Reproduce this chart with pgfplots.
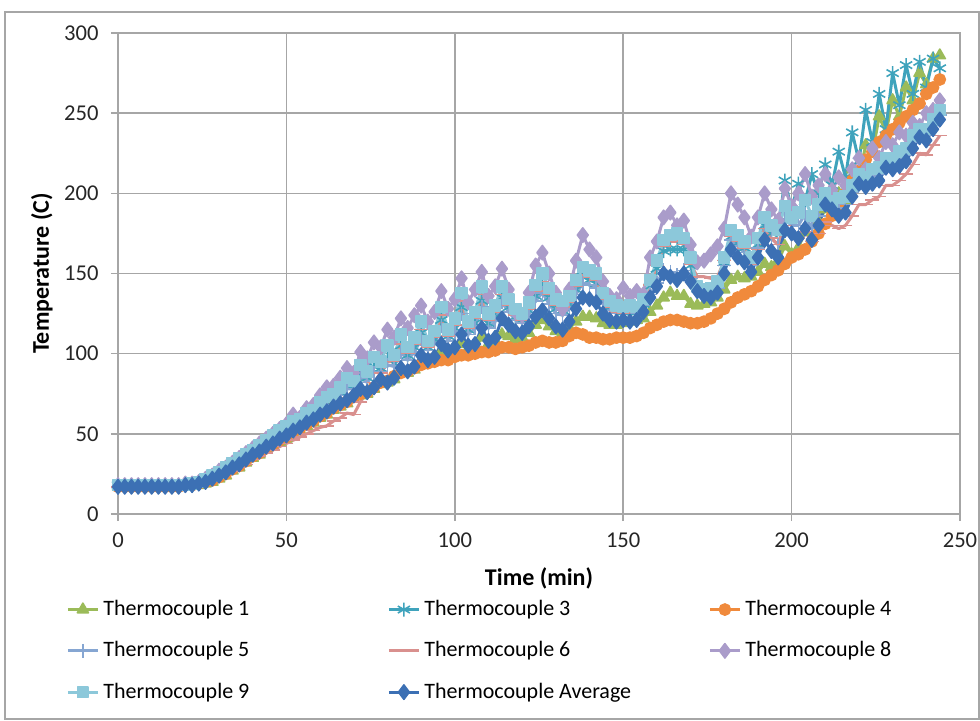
\documentclass[border=0pt]{standalone}
\usepackage{fontspec}
\setmainfont{Carlito}
\usepackage{pgfplots}
\pgfplotsset{compat=1.18}
\usepackage{pgfplotstable}
\definecolor{cA}{HTML}{9BBB59}
\definecolor{cB}{HTML}{3FA3BC}
\definecolor{cC}{HTML}{F08A3C}
\definecolor{cD}{HTML}{86A6D2}
\definecolor{cE}{HTML}{D9908E}
\definecolor{cF}{HTML}{AA9CCA}
\definecolor{cG}{HTML}{8CC8DA}
\definecolor{cH}{HTML}{3C70B4}
\definecolor{gridc}{HTML}{A6A6A6}

\pgfplotstableread{
t a b c d e f g h
0 17 18 17 17 17 18 18 17
2 17 18 17 18 17 18 18 17
4 17 18 17 17 17 18 18 17
6 17 18 17 17 17 18 18 17
8 17 18 17 18 17 18 18 17
10 17 18 17 17 17 18 18 17
12 17 18 17 18 17 18 18 17
14 17 18 17 17 17 18 18 17
16 17 18 17 18 17 18 18 17
18 17 18 17 17 17 18 18 17
20 17 18 18 18 17 19 18 18
22 18 19 18 18 18 19 19 18
24 18 20 19 19 18 20 20 19
26 19 21 20 21 19 22 22 20
28 20 23 21 23 21 24 24 22
30 22 25 23 25 23 27 26 24
32 24 28 25 27 25 29 29 26
34 27 31 28 30 27 32 32 29
36 29 34 30 33 29 35 35 31
38 32 36 33 35 31 38 37 34
40 35 39 36 38 34 41 40 37
42 37 42 38 41 36 44 43 39
44 40 45 41 44 38 47 46 42
46 42 47 43 46 40 50 49 44
48 45 50 46 49 42 53 52 47
50 47 53 48 52 44 56 55 49
52 50 56 51 55 46 62 58 52
54 52 57 53 56 48 60 59 54
56 55 61 56 60 50 66 63 57
58 57 63 58 62 52 68 65 59
60 60 67 61 66 54 74 70 62
62 62 70 63 68 55 79 73 64
64 65 72 66 71 58 80 75 67
66 67 76 68 74 60 85 79 69
68 69 80 70 78 63 91 85 71
70 72 80 73 78 62 88 83 74
72 74 88 75 85 70 101 93 78
74 75 85 76 82 76 97 89 76
76 78 92 79 88 82 107 98 79
78 81 91 82 89 88 104 95 84
80 82 97 83 93 95 115 105 82
82 84 94 86 92 95 110 99 85
84 88 105 88 101 106 122 112 91
86 88 99 89 96 100 116 104 89
88 90 104 91 101 106 124 110 92
90 95 113 93 109 115 130 120 99
92 94 104 94 102 104 120 108 96
94 96 109 95 106 110 126 114 98
96 101 121 96 117 124 139 129 106
98 100 111 96 108 111 128 115 102
100 101 116 98 113 118 134 122 104
102 106 129 99 125 133 147 138 112
104 103 115 99 112 116 132 120 105
106 104 119 100 116 122 140 126 106
108 110 133 101 129 137 151 142 116
110 106 119 101 116 121 136 125 108
112 108 123 102 120 126 142 130 110
114 112 135 104 132 137 153 142 122
116 111 129 104 126 130 140 134 118
118 109 123 103 121 124 126 128 114
120 110 121 104 119 121 124 125 113
122 113 127 105 124 128 138 132 117
124 118 136 107 133 139 155 143 123
126 121 142 108 138 145 163 150 127
128 117 135 107 131 137 150 141 122
130 114 128 107 125 130 138 134 117
132 113 127 108 124 129 128 133 115
134 116 131 111 128 132 140 136 120
136 120 140 113 137 142 158 146 128
138 123 148 112 144 149 174 154 135
140 123 146 110 143 148 165 152 134
142 122 144 110 141 146 160 150 132
144 119 134 109 131 134 145 138 125
146 118 129 109 127 129 136 133 121
148 118 127 110 125 126 134 130 120
150 119 126 110 125 125 141 129 121
152 120 127 110 125 126 136 130 120
154 121 126 111 125 126 139 129 121
156 122 131 113 130 131 137 134 126
158 126 142 116 137 143 160 146 135
160 130 153 118 144 155 170 158 142
162 135 164 120 152 167 185 171 150
164 138 165 121 151 170 188 174 148
166 136 165 121 149 170 180 175 146
168 136 165 120 152 168 183 172 150
170 131 155 119 147 156 168 160 145
172 130 141 119 140 148 157 142 139
174 131 139 120 138 148 158 140 136
176 132 139 122 138 147 162 141 135
178 135 143 125 141 148 167 145 138
180 140 157 128 155 158 178 160 150
182 146 173 132 171 173 200 177 165
184 148 169 135 167 170 193 174 160
186 147 166 137 163 166 185 170 157
188 148 157 139 155 156 173 160 151
190 151 168 142 166 165 185 172 160
192 156 180 146 178 178 200 185 171
194 154 175 149 172 172 190 180 164
196 158 178 152 168 168 183 177 160
198 167 208 156 184 180 203 192 177
200 162 190 160 180 175 192 185 175
202 166 206 162 180 172 200 188 172
204 176 195 165 187 176 212 196 178
206 172 212 170 178 170 198 186 171
208 182 200 175 186 175 205 193 180
210 190 218 181 196 182 212 200 193
212 186 205 186 192 180 202 195 190
214 200 226 193 191 178 210 197 186
216 196 210 200 193 180 205 198 188
218 215 238 208 201 186 215 205 198
220 210 220 214 209 193 222 212 206
222 230 252 221 207 193 215 210 204
224 225 232 226 210 196 228 215 206
226 248 262 232 212 198 222 216 208
228 238 240 236 219 205 232 222 216
230 258 275 240 218 205 230 222 215
232 248 255 244 221 208 238 226 217
234 266 280 248 224 212 236 228 220
236 258 262 252 232 218 244 236 228
238 275 282 256 237 225 242 240 235
240 268 266 262 236 224 250 240 233
242 284 284 266 243 230 252 246 240
244 286 278 271 249 236 258 252 246
}\datatable

\pgfplotsset{
  ser/.style={#1, line width=1.5pt, line join=round, mark options={solid, fill=#1, draw=#1, line width=0.8pt}},
}

\begin{document}
\begin{tikzpicture}
\useasboundingbox (-59pt,-103pt) rectangle (431pt,257pt);
\draw[gridc, line width=0.6pt] (-56.5pt,-102.5pt) rectangle (430.5pt,251pt);
\begin{axis}[
  at={(0,0)}, anchor=south west,
  scale only axis, width=421pt, height=240.5pt,
  xmin=0, xmax=250, ymin=0, ymax=300,
  xtick={0,50,...,250}, ytick={0,50,...,300},
  grid=major, grid style={draw=gridc, line width=0.75pt},
  axis line style={draw=gridc, line width=0.75pt},
  tick align=outside, tick pos=left, major tick length=3.5pt,
  tick style={draw=gridc, line width=0.75pt},
  /pgf/number format/assume math mode=true,
  ticklabel style={font=\fontsize{11.3}{13.5}\selectfont, text=black!85},
  yticklabel style={anchor=east, inner sep=0pt, xshift=-6pt},
  xticklabel style={anchor=north, inner sep=0pt, yshift=-5.5pt},
  xlabel={Time (min)}, ylabel={Temperature (C)},
  label style={font=\fontsize{12}{14}\selectfont\bfseries},
  xlabel style={at={(axis description cs:0.5,-0.133)}, anchor=center},
  ylabel style={at={(axis description cs:-0.0903,0.5)}, anchor=center},
  legend columns=3,
  legend cell align=left,
  legend style={draw=none, fill=none, at={(axis description cs:0,0)}, anchor=north west,
    xshift=-26pt, yshift=-41pt,
    font=\fontsize{11}{13}\selectfont, row sep=7.5pt, inner sep=0pt,
    /tikz/every even column/.append style={text width=140pt, align=flush left}},
  legend image code/.code={\draw[mark repeat=2, mark phase=2, #1] plot coordinates {(0pt,0pt) (7.5pt,0pt) (15pt,0pt)};},
]
\addplot[ser=cA, mark=triangle*, mark size=3.2pt] table[x=t, y=a]{\datatable};
\addlegendentry{Thermocouple 1}
\addplot[ser=cB, mark=asterisk, mark size=3.5pt] table[x=t, y=b]{\datatable};
\addlegendentry{Thermocouple 3}
\addplot[ser=cC, mark=*, mark size=2.8pt] table[x=t, y=c]{\datatable};
\addlegendentry{Thermocouple 4}
\addplot[ser=cD, mark=+, mark size=3.5pt] table[x=t, y=d]{\datatable};
\addlegendentry{Thermocouple 5}
\addplot[ser=cE, mark=-, mark size=3.5pt] table[x=t, y=e]{\datatable};
\addlegendentry{Thermocouple 6}
\addplot[ser=cF, mark=diamond*, mark size=3.6pt] table[x=t, y=f]{\datatable};
\addlegendentry{Thermocouple 8}
\addplot[ser=cG, mark=square*, mark size=2.7pt] table[x=t, y=g]{\datatable};
\addlegendentry{Thermocouple 9}
\addplot[ser=cH, mark=diamond*, mark size=3.6pt] table[x=t, y=h]{\datatable};
\addlegendentry{Thermocouple Average}
\end{axis}
\end{tikzpicture}
\end{document}
